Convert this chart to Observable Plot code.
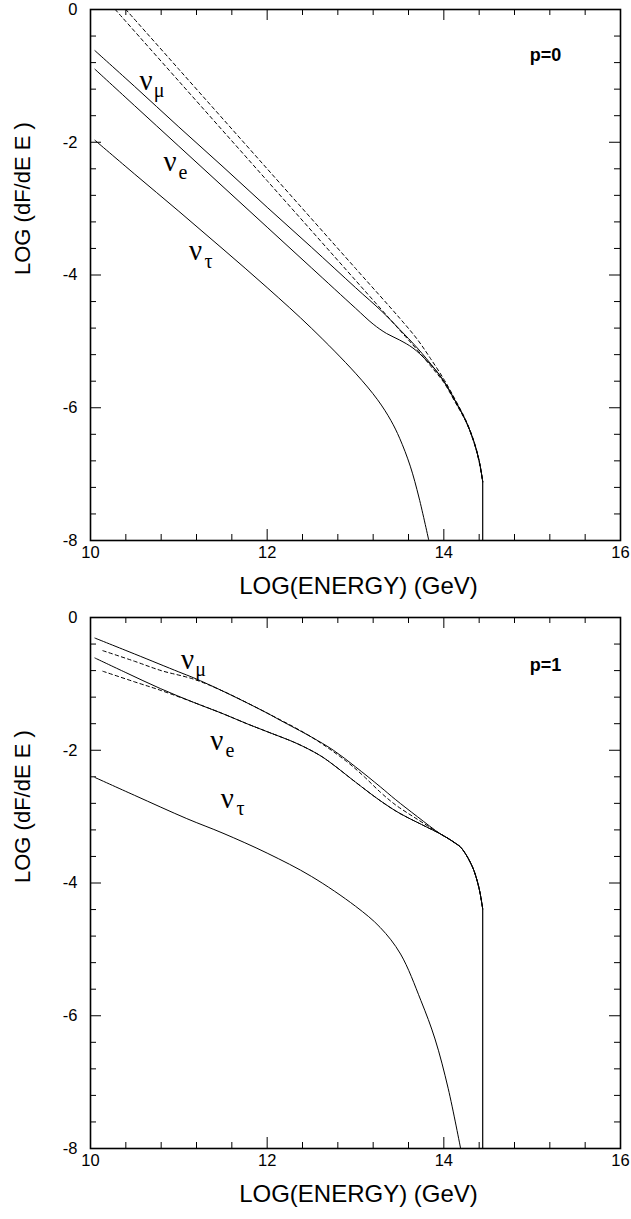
<!DOCTYPE html>
<html><head><meta charset="utf-8">
<script src="https://cdn.jsdelivr.net/npm/d3@7"></script>
<script src="https://cdn.jsdelivr.net/npm/@observablehq/plot@0.6"></script>
<style>
body{margin:0;background:#fff;}
#wrap{position:relative;width:631px;height:1219px;overflow:hidden;background:#fff;}
.panel{position:absolute;left:0;}
</style></head><body><div id="wrap"></div>
<script>
// ---------- axis ticks & labels ----------
const xTicksMinor = [10.4,10.8,11.2,11.6,12.4,12.8,13.2,13.6,14.4,14.8,15.2,15.6];
const xTicksMajor = [10,12,14,16];
const yTicksMinor = [-0.4,-0.8,-1.2,-1.6,-2.4,-2.8,-3.2,-3.6,-4.4,-4.8,-5.2,-5.6,-6.4,-6.8,-7.2,-7.6];
const yTicksMajor = [0,-2,-4,-6,-8];
const xTickLabels = ["10","12","14","16"];
const yTickLabels = ["0","-2","-4","-6","-8"];
const xTitle = "LOG(ENERGY) (GeV)";
const yTitle = "LOG (dF/dE E )";

// ---------- panel p=0 ----------
const p0NuMuX = [10.05,10.5,11.0,11.5,12.0,12.5,13.0,13.3,13.5,13.7,13.9,14.0,14.13,14.25,14.34,14.40,14.44];
const p0NuMuY = [-0.62,-1.16,-1.77,-2.37,-2.98,-3.58,-4.19,-4.55,-4.82,-5.10,-5.42,-5.60,-5.90,-6.20,-6.51,-6.80,-7.11];
const p0NuEX = [10.05,10.5,11.0,11.5,12.0,12.5,13.0,13.2,13.35,13.5,13.65,13.8,13.9,14.0,14.13,14.25,14.34,14.40,14.44];
const p0NuEY = [-0.90,-1.45,-2.06,-2.67,-3.28,-3.89,-4.50,-4.74,-4.88,-4.98,-5.10,-5.28,-5.42,-5.60,-5.90,-6.20,-6.51,-6.80,-7.11];
const p0NuTauX = [10.05,10.5,11.0,11.5,12.0,12.5,13.0,13.25,13.4,13.5,13.62,13.72,13.83];
const p0NuTauY = [-1.97,-2.48,-3.04,-3.61,-4.19,-4.80,-5.48,-5.88,-6.19,-6.46,-6.88,-7.36,-8.0];
const p0Dash1X = [10.28,11.0,12.0,13.0,13.5,13.7,13.85,14.0,14.13,14.25,14.34,14.40,14.44];
const p0Dash1Y = [0,-1.08,-2.58,-4.08,-4.83,-5.13,-5.37,-5.62,-5.92,-6.21,-6.52,-6.82,-7.12];
const p0Dash2X = [10.40,11.0,12.0,13.0,13.5,13.7,13.85,14.0,14.13,14.25,14.34,14.40,14.44];
const p0Dash2Y = [0,-0.90,-2.40,-3.90,-4.65,-4.97,-5.26,-5.57,-5.88,-6.19,-6.50,-6.80,-7.10];
const p0CutoffX = [14.44,14.44];
const p0CutoffY = [-7.11,-8.0];

// ---------- panel p=1 ----------
const p1NuMuX = [10.05,10.5,11.0,11.17,11.5,12.0,12.15,12.5,12.75,13.0,13.28,13.45,13.7,13.96,14.05,14.13,14.19,14.25,14.30,14.34,14.38,14.41,14.44];
const p1NuMuY = [-0.31,-0.55,-0.82,-0.91,-1.11,-1.44,-1.55,-1.80,-2.00,-2.25,-2.55,-2.74,-3.00,-3.26,-3.33,-3.40,-3.46,-3.57,-3.69,-3.81,-3.98,-4.15,-4.39];
const p1DashMuX = [10.14,10.5,10.8,11.17,11.5,12.0,12.5,12.9,13.1,13.28,13.45,13.7,13.96,14.05,14.13,14.19,14.25,14.30,14.34,14.38,14.41,14.44];
const p1DashMuY = [-0.50,-0.66,-0.80,-0.93,-1.11,-1.44,-1.80,-2.17,-2.40,-2.63,-2.82,-3.04,-3.26,-3.33,-3.40,-3.46,-3.57,-3.69,-3.81,-3.98,-4.15,-4.39];
const p1NuEX = [10.05,10.4,10.79,11.17,11.5,11.77,12.0,12.34,12.6,12.75,13.0,13.28,13.5,13.75,13.96,14.05,14.13,14.19,14.25,14.30,14.34,14.38,14.41,14.44];
const p1NuEY = [-0.61,-0.83,-1.07,-1.28,-1.45,-1.60,-1.72,-1.90,-2.08,-2.22,-2.48,-2.76,-2.95,-3.12,-3.26,-3.33,-3.40,-3.46,-3.57,-3.69,-3.81,-3.98,-4.15,-4.39];
const p1DashEX = [10.14,10.5,10.8,11.17,11.5,11.77,12.0,12.34,12.6,12.75,13.0,13.28,13.5,13.75,13.96,14.05,14.13,14.19,14.25,14.30,14.34,14.38,14.41,14.44];
const p1DashEY = [-0.81,-0.97,-1.10,-1.28,-1.45,-1.60,-1.72,-1.90,-2.08,-2.22,-2.48,-2.76,-2.95,-3.12,-3.26,-3.33,-3.40,-3.46,-3.57,-3.69,-3.81,-3.98,-4.15,-4.39];
const p1NuTauX = [10.05,10.5,11.09,11.5,12.0,12.5,13.0,13.28,13.51,13.74,13.9,14.05,14.19];
const p1NuTauY = [-2.41,-2.68,-3.03,-3.25,-3.55,-3.90,-4.35,-4.67,-5.07,-5.77,-6.35,-7.10,-8.0];
const p1CutoffX = [14.44,14.44];
const p1CutoffY = [-4.39,-8.0];

// ---------- annotations (data coordinates) ----------
const p0NuLabelX = [10.63,10.90,11.19];
const p0NuLabelY = [-1.10,-2.33,-3.67];
const p1NuLabelX = [11.10,11.43,11.55];
const p1NuLabelY = [-0.67,-1.88,-2.76];
const nuSubs = ["μ","e","τ"];
const panelLabels = ["p=0","p=1"];
const panelLabelX = [15.15,15.15];
const panelLabelY = [-0.69,-0.72];

const rows = (xs, ys) => xs.map((x, i) => ({x, y: ys[i]}));
const FONT = "'Liberation Sans', Arial, Helvetica, sans-serif";
const SERIF = "'Liberation Serif', 'Times New Roman', serif";
const INNER_W = 530, INNER_H = 531;

function panel(cfg) {
  const solid = {x: "x", y: "y", stroke: "black", strokeWidth: 1, clip: true, curve: "catmull-rom"};
  const dashed = {...solid, strokeDasharray: "3.5,3"};
  const nu = cfg.nuX.map((x, i) => ({x, y: cfg.nuY[i], sub: nuSubs[i]}));
  const tick = {stroke: "black", strokeWidth: 1};
  return Plot.plot({
    width: 631,
    height: cfg.height,
    marginLeft: 90, marginRight: 11, marginTop: 9, marginBottom: cfg.height - 9 - INNER_H,
    x: {domain: [10, 16], label: null},
    y: {domain: [-8, 0], label: null},
    axis: null,
    style: {fontFamily: FONT, color: "black", background: "white", overflow: "visible"},
    marks: [
      ...cfg.solid.map(s => Plot.line(s, solid)),
      ...cfg.dashed.map(s => Plot.line(s, dashed)),
      Plot.line(cfg.cutoff, {x: "x", y: "y", stroke: "black", strokeWidth: 1.2}),
      // inward ticks on all four sides
      Plot.ruleX(xTicksMinor, {x: d => d, insetTop: INNER_H - 6, ...tick}),
      Plot.ruleX(xTicksMajor, {x: d => d, insetTop: INNER_H - 11, ...tick}),
      Plot.ruleX(xTicksMinor, {x: d => d, insetBottom: INNER_H - 6, ...tick}),
      Plot.ruleX(xTicksMajor, {x: d => d, insetBottom: INNER_H - 11, ...tick}),
      Plot.ruleY(yTicksMinor, {y: d => d, insetRight: INNER_W - 6, ...tick}),
      Plot.ruleY(yTicksMajor, {y: d => d, insetRight: INNER_W - 11, ...tick}),
      Plot.ruleY(yTicksMinor, {y: d => d, insetLeft: INNER_W - 6, ...tick}),
      Plot.ruleY(yTicksMajor, {y: d => d, insetLeft: INNER_W - 11, ...tick}),
      Plot.frame({stroke: "black", strokeWidth: 1.6}),
      Plot.text(xTickLabels, {x: (d, i) => xTicksMajor[i], text: d => d, frameAnchor: "bottom", dy: 17, fontSize: 16.5, fill: "black"}),
      Plot.text(yTickLabels, {y: (d, i) => yTicksMajor[i], text: d => d, frameAnchor: "left", dx: -13, textAnchor: "end", fontSize: 16.5, fill: "black"}),
      Plot.text([xTitle], {text: d => d, frameAnchor: "bottom", dx: 3, dy: 53, fontSize: 24, fill: "black"}),
      Plot.text([yTitle], {text: d => d, frameAnchor: "left", dx: -68, rotate: -90, fontSize: 22, fill: "black"}),
      Plot.text([cfg.label], {x: cfg.labelX, y: cfg.labelY, text: d => d, fontSize: 18, fontWeight: "bold", fill: "black"}),
      Plot.text(nu, {x: "x", y: "y", text: () => "ν", dy: -2, fontSize: 29, fontFamily: SERIF, fill: "black"}),
      Plot.text(nu, {x: "x", y: "y", text: "sub", dx: 13, dy: 8, fontSize: 20, fontFamily: SERIF, fill: "black"})
    ]
  });
}

const wrap = document.getElementById("wrap");
const topPanel = panel({
  height: 608,
  solid: [rows(p0NuMuX, p0NuMuY), rows(p0NuEX, p0NuEY), rows(p0NuTauX, p0NuTauY)],
  dashed: [rows(p0Dash1X, p0Dash1Y), rows(p0Dash2X, p0Dash2Y)],
  cutoff: rows(p0CutoffX, p0CutoffY),
  nuX: p0NuLabelX, nuY: p0NuLabelY,
  label: panelLabels[0], labelX: panelLabelX[0], labelY: panelLabelY[0]
});
topPanel.classList.add("panel"); topPanel.style.top = "0px";
const bottomPanel = panel({
  height: 611,
  solid: [rows(p1NuMuX, p1NuMuY), rows(p1NuEX, p1NuEY), rows(p1NuTauX, p1NuTauY)],
  dashed: [rows(p1DashMuX, p1DashMuY), rows(p1DashEX, p1DashEY)],
  cutoff: rows(p1CutoffX, p1CutoffY),
  nuX: p1NuLabelX, nuY: p1NuLabelY,
  label: panelLabels[1], labelX: panelLabelX[1], labelY: panelLabelY[1]
});
bottomPanel.classList.add("panel"); bottomPanel.style.top = "608px";
wrap.appendChild(bottomPanel);
wrap.appendChild(topPanel);
</script></body></html>
